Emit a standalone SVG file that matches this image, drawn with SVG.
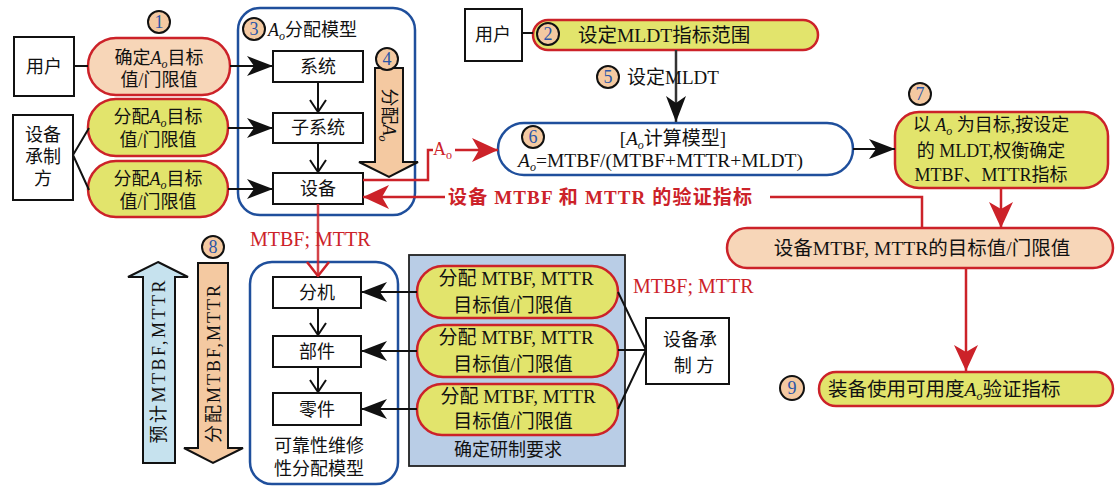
<svg xmlns="http://www.w3.org/2000/svg" width="1115" height="486" viewBox="0 0 1115 486">
<style>
.t{font-family:"Liberation Serif","Noto Sans CJK SC",serif;font-size:18px;fill:#111}
.c{text-anchor:middle}
.i{font-style:italic}
.s{font-size:12px;font-style:italic}
.red{fill:#cc2229}
.box{fill:#fff;stroke:#111;stroke-width:2}
.py{fill:#e2e46c;stroke:#cc2229;stroke-width:2.5}
.pp{fill:#f7d6b8;stroke:#cc2229;stroke-width:2.5}
.bl{fill:#fff;stroke:#1f4f9c;stroke-width:2.5}
.nc{fill:#f4c9a1;stroke:#111;stroke-width:2}
.nt{font-family:"Liberation Serif",serif;font-size:18px;fill:#2a56a8;text-anchor:middle}
.k{fill:none;stroke:#111;stroke-width:2}
.r{fill:none;stroke:#cc2229;stroke-width:2.5}
</style>
<defs>
<marker id="ab" markerWidth="26" markerHeight="20" refX="26" refY="10" orient="auto" markerUnits="userSpaceOnUse"><path d="M0,0 L26,10 L0,20 L7,10 z" fill="#111"/></marker>
<marker id="ar" markerWidth="26" markerHeight="24" refX="26" refY="12" orient="auto" markerUnits="userSpaceOnUse"><path d="M0,0 L26,12 L0,24 L7,12 z" fill="#cc2229"/></marker>
<marker id="cv" markerWidth="14" markerHeight="18" refX="13" refY="9" orient="auto" markerUnits="userSpaceOnUse"><path d="M1,1 L13,9 L1,17" fill="none" stroke="#111" stroke-width="2"/></marker>
<marker id="cr" markerWidth="16" markerHeight="24" refX="15" refY="12" orient="auto" markerUnits="userSpaceOnUse"><path d="M1,1 L15,12 L1,23" fill="none" stroke="#cc2229" stroke-width="2.5"/></marker>
</defs>

<g id="n-user1"><rect class="box" x="14" y="37" width="60" height="59"/><text class="t c" x="44" y="73">用户</text></g>
<g id="n-pill1"><rect class="pp" x="88" y="38" width="142" height="57" rx="28"/>
<text class="t c" x="159" y="64">确定<tspan class="i">A</tspan><tspan class="s" dy="4">o</tspan><tspan dy="-4">目标</tspan></text>
<text class="t c" x="159" y="86">值/门限值</text>
<circle class="nc" cx="159" cy="22" r="11"/><text class="nt" x="159" y="28">1</text></g>
<g id="n-maker1"><rect class="box" x="13" y="115" width="60" height="85"/>
<text class="t c" x="43" y="141">设备</text><text class="t c" x="43" y="163">承制</text><text class="t c" x="43" y="185">方</text></g>
<g id="n-pill2"><rect class="py" x="88" y="99" width="140" height="57" rx="28"/>
<text class="t c" x="158" y="123">分配<tspan class="i">A</tspan><tspan class="s" dy="4">o</tspan><tspan dy="-4">目标</tspan></text>
<text class="t c" x="158" y="146">值/门限值</text></g>
<g id="n-pill3"><rect class="py" x="88" y="161" width="140" height="56" rx="28"/>
<text class="t c" x="158" y="185">分配<tspan class="i">A</tspan><tspan class="s" dy="4">o</tspan><tspan dy="-4">目标</tspan></text>
<text class="t c" x="158" y="208">值/门限值</text></g>

<g id="n-aomodel"><rect class="bl" x="238" y="8" width="177" height="207" rx="22"/>
<circle class="nc" cx="254" cy="29" r="11"/><text class="nt" x="254" y="35">3</text>
<text class="t" x="268" y="36"><tspan class="i">A</tspan><tspan class="s" dy="4">o</tspan><tspan dy="-4">分配模型</tspan></text></g>
<g id="n-sys"><rect class="box" x="273" y="51" width="90" height="31"/><text class="t c" x="318" y="73">系统</text></g>
<g id="n-subsys"><rect class="box" x="273" y="113" width="90" height="30"/><text class="t c" x="318" y="134">子系统</text></g>
<g id="n-equip"><rect class="box" x="273" y="173" width="90" height="31"/><text class="t c" x="318" y="195">设备</text></g>
<g id="n-arrow4"><polygon points="375,68 403,68 403,162 418,162 389,177 359,162 375,162" fill="#f4c9a1" stroke="#111" stroke-width="2"/>
<circle class="nc" cx="387" cy="59" r="11"/><text class="nt" x="387" y="65">4</text>
<text class="t c" transform="translate(383,115) rotate(90)">分配<tspan class="i">A</tspan><tspan class="s" dy="4">o</tspan></text></g>

<g id="n-user2"><rect class="box" x="465" y="9" width="57" height="52"/><text class="t c" x="493" y="41">用户</text></g>
<g id="n-mldt"><rect class="py" x="533" y="20" width="285" height="30" rx="15"/>
<circle class="nc" cx="548" cy="34" r="11"/><text class="nt" x="548" y="40">2</text>
<text class="t" x="578" y="42" style="font-size:19.5px">设定MLDT指标范围</text></g>
<g id="n-calc"><rect class="bl" x="498" y="123" width="355" height="52" rx="26"/>
<circle class="nc" cx="533" cy="137" r="11"/><text class="nt" x="533" y="143">6</text>
<text class="t c" x="673" y="145" style="font-size:19px">[<tspan class="i">A</tspan><tspan class="s" dy="4">o</tspan><tspan dy="-4">计算模型]</tspan></text>
<text class="t" x="518" y="167" style="font-size:19.5px"><tspan class="i">A</tspan><tspan class="s" dy="4">o</tspan><tspan dy="-4">=MTBF/(MTBF+MTTR+MLDT)</tspan></text></g>
<g id="n-trade"><rect class="py" x="895" y="112" width="213" height="76" rx="24"/>
<circle class="nc" cx="920" cy="94" r="11"/><text class="nt" x="920" y="100">7</text>
<text class="t c" x="991" y="131">以 <tspan class="i">A</tspan><tspan class="s" dy="4">o</tspan><tspan dy="-4"> 为目标,按设定</tspan></text>
<text class="t c" x="991" y="157">的 MLDT,权衡确定</text>
<text class="t c" x="991" y="181">MTBF、MTTR指标</text></g>
<g id="n-target"><rect class="pp" x="727" y="228" width="386" height="40" rx="20"/>
<text class="t c" x="922" y="255" style="font-size:19.5px">设备MTBF, MTTR的目标值/门限值</text></g>
<g id="n-verify"><rect class="py" x="819" y="372" width="294" height="34" rx="17"/>
<circle class="nc" cx="792" cy="388" r="12"/><text class="nt" x="792" y="394">9</text>
<text class="t" x="828" y="396" style="font-size:19.5px">装备使用可用度<tspan class="i">A</tspan><tspan class="s" dy="4">o</tspan><tspan dy="-4">验证指标</tspan></text></g>

<g id="n-predict"><polygon points="158,262 188,277 175,277 175,463 143,463 143,277 128,277" fill="#c6e2ee" stroke="#111" stroke-width="2"/>
<text class="t c" transform="translate(165,362) rotate(-90)" textLength="163">预计MTBF,MTTR</text></g>
<g id="n-alloc"><polygon points="198,263 228,263 228,448 243,448 213,463 184,448 198,448" fill="#f4c9a1" stroke="#111" stroke-width="2"/>
<circle class="nc" cx="213" cy="247" r="11"/><text class="nt" x="213" y="253">8</text>
<text class="t c" transform="translate(220,364) rotate(-90)" textLength="158">分配MTBF,MTTR</text></g>
<g id="n-rmmodel"><rect class="bl" x="250" y="262" width="148" height="222" rx="22"/>
<text class="t c" x="319" y="452">可靠性维修</text><text class="t c" x="319" y="475">性分配模型</text></g>
<g id="n-fenji"><rect class="box" x="273" y="277" width="88" height="31"/><text class="t c" x="317" y="299">分机</text></g>
<g id="n-bujian"><rect class="box" x="273" y="336" width="88" height="31"/><text class="t c" x="317" y="358">部件</text></g>
<g id="n-lingjian"><rect class="box" x="273" y="393" width="88" height="32"/><text class="t c" x="317" y="416">零件</text></g>
<g id="n-req"><rect x="409" y="255" width="216" height="211" fill="#b9cde6" stroke="#222" stroke-width="1.8"/>
<text class="t c" x="508" y="456">确定研制要求</text></g>
<g id="n-rp1"><rect class="py" x="417" y="266" width="201" height="52" rx="26"/>
<text class="t c" x="516" y="285" style="font-size:19px">分配  MTBF, MTTR</text><text class="t c" x="513" y="312" style="font-size:19px">目标值/门限值</text></g>
<g id="n-rp2"><rect class="py" x="417" y="325" width="201" height="52" rx="26"/>
<text class="t c" x="516" y="344" style="font-size:19px">分配  MTBF, MTTR</text><text class="t c" x="513" y="371" style="font-size:19px">目标值/门限值</text></g>
<g id="n-rp3"><rect class="py" x="417" y="384" width="201" height="51" rx="25"/>
<text class="t c" x="518" y="403" style="font-size:19px">分配  MTBF, MTTR</text><text class="t c" x="513" y="428" style="font-size:19px">目标值/门限值</text></g>
<g id="n-maker2"><rect class="box" x="646" y="318" width="83" height="66"/>
<text class="t c" x="690" y="346">设备承</text><text class="t c" x="694" y="372">制 方</text></g>

<g id="connectors">
<line class="k" x1="74" y1="66" x2="88" y2="66"/>
<polyline class="k" points="89,128 73,155 89,190"/>
<line class="k" x1="230" y1="66" x2="273" y2="66" marker-end="url(#ab)"/>
<line class="k" x1="228" y1="128" x2="273" y2="128" marker-end="url(#ab)"/>
<line class="k" x1="228" y1="189" x2="273" y2="189" marker-end="url(#ab)"/>
<line class="k" x1="318" y1="82" x2="318" y2="112" marker-end="url(#cv)"/>
<line class="k" x1="318" y1="143" x2="318" y2="172" marker-end="url(#cv)"/>
<line class="k" x1="522" y1="33" x2="533" y2="33"/>
<line x1="676" y1="50" x2="676" y2="122" stroke="#333" stroke-width="2.5" marker-end="url(#ab)"/>
<line class="k" x1="853" y1="149" x2="895" y2="149" marker-end="url(#ab)"/>
<polyline class="r" points="363,180 428,180 428,150 433,150"/>
<line class="r" x1="455" y1="150" x2="498" y2="150" marker-end="url(#ar)"/>
<line class="r" x1="445" y1="197" x2="363" y2="197" marker-end="url(#ar)"/>
<polyline class="r" points="770,197 922,197 922,228"/>
<line class="r" x1="1001" y1="188" x2="1001" y2="228" marker-end="url(#ar)"/>
<line class="r" x1="966" y1="268" x2="966" y2="371" marker-end="url(#ar)"/>
<line x1="318" y1="204" x2="318" y2="276" stroke="#cc2229" stroke-width="2.5" stroke-opacity="0.85" marker-end="url(#cr)"/>
<line class="k" x1="318" y1="308" x2="318" y2="335" marker-end="url(#cv)"/>
<line class="k" x1="318" y1="367" x2="318" y2="392" marker-end="url(#cv)"/>
<line class="k" x1="417" y1="292" x2="361" y2="292" marker-end="url(#ab)"/>
<line class="k" x1="417" y1="351" x2="361" y2="351" marker-end="url(#ab)"/>
<line class="k" x1="417" y1="409" x2="361" y2="409" marker-end="url(#ab)"/>
<polyline class="k" points="618,292 646,350 618,409"/>
<line class="k" x1="618" y1="350" x2="646" y2="350"/>
</g>

<g id="labels">
<text class="t red" x="433" y="155">A<tspan class="s" style="font-style:normal" dy="4">o</tspan></text>
<text class="t red" x="448" y="204" font-weight="bold" style="font-size:19px" textLength="304">设备 MTBF  和 MTTR  的验证指标</text>
<text class="t red" x="250" y="246" style="font-size:20px">MTBF; MTTR</text>
<text class="t red" x="633" y="293" style="font-size:20px">MTBF; MTTR</text>
<circle class="nc" cx="608" cy="77" r="11"/><text class="nt" x="608" y="83">5</text>
<text class="t" x="627" y="84" style="font-size:19px">设定MLDT</text>
</g>
</svg>
